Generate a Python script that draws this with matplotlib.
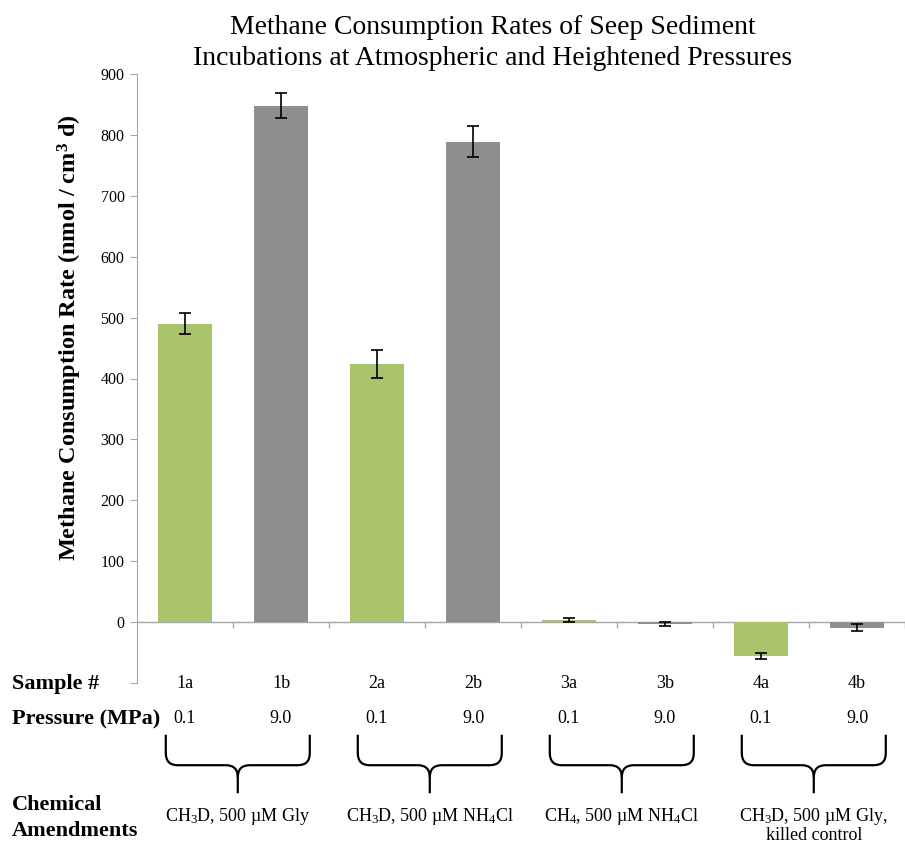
import matplotlib
matplotlib.use("Agg")
import matplotlib.pyplot as plt
from matplotlib.path import Path
from matplotlib.patches import PathPatch

plt.rcParams['font.family'] = ['Liberation Serif', 'DejaVu Serif']
plt.rcParams['mathtext.fontset'] = 'custom'
plt.rcParams['mathtext.rm'] = 'Liberation Serif'
plt.rcParams['mathtext.it'] = 'Liberation Serif:italic'
plt.rcParams['mathtext.bf'] = 'Liberation Serif:bold'

# datos
muestras = ['1a', '1b', '2a', '2b', '3a', '3b', '4a', '4b']
presion = ['0.1', '9.0', '0.1', '9.0', '0.1', '9.0', '0.1', '9.0']
tasas = [490, 848, 424, 789, 3.5, -3.5, -55, -9]
errores = [17, 21, 23, 26, 3, 3.5, 5, 6]
enmiendas = ['CH$_3$D, 500 µM Gly',
             'CH$_3$D, 500 µM NH$_4$Cl',
             'CH$_4$, 500 µM NH$_4$Cl',
             'CH$_3$D, 500 µM Gly,\nkilled control']
y_ticks = [-100, 0, 100, 200, 300, 400, 500, 600, 700, 800, 900]

verde = '#A9C46C'
gris = '#8E8E8E'
gris_eje = '#A6A6A6'
colores = [verde if m.endswith('a') else gris for m in muestras]

fig = plt.figure(figsize=(9.05, 8.44), dpi=100)
ax = fig.add_axes([137/905, 161/844, 768/905, 609/844])

x = list(range(len(muestras)))
ax.bar(x, tasas, width=0.57, color=colores, zorder=2)
ax.errorbar(x, tasas, yerr=errores, fmt='none', ecolor='black',
            elinewidth=1.2, capsize=4, capthick=1.2, zorder=3)

ax.set_xlim(-0.5, 7.5)
ax.set_ylim(-100, 900)
ax.set_yticks(y_ticks)
ax.set_yticklabels(['' if t < 0 else str(t) for t in y_ticks], fontsize=11.5)
ax.tick_params(axis='y', direction='out', length=5, color=gris_eje, pad=4)
ax.set_xticks([])
for lado in ['top', 'right', 'bottom']:
    ax.spines[lado].set_visible(False)
ax.spines['left'].set_color(gris_eje)

# linea del cero y marcas entre categorias
ax.axhline(0, color=gris_eje, lw=1, zorder=1)
ax.vlines([i + 0.5 for i in range(8)], -9, 0, color=gris_eje, lw=1, clip_on=False)

# etiquetas bajo el eje
for i in x:
    ax.text(i, -100, muestras[i], ha='center', va='center', fontsize=13)
    ax.text(i, -158, presion[i], ha='center', va='center', fontsize=13)

fig.text(12/905, 1 - 684/844, 'Sample #', fontsize=16, fontweight='bold', va='center')
fig.text(12/905, 1 - 719/844, 'Pressure (MPa)', fontsize=16, fontweight='bold', va='center')
fig.text(12/905, 1 - 818/844, 'Chemical\nAmendments', fontsize=16, fontweight='bold',
         va='center', linespacing=1.4)

# llaves
rx, ry = 12/96.3, 12/0.609
y_top, y_h, y_tip = -185, -235, -281
for g in range(4):
    x0 = 2*g - 0.2
    x1 = 2*g + 1.3
    xm = (x0 + x1) / 2
    verts = [(x0, y_top), (x0, y_h + ry), (x0, y_h), (x0 + rx, y_h),
             (xm - rx, y_h), (xm, y_h), (xm, y_h - ry), (xm, y_tip),
             (xm, y_h - ry), (xm, y_h), (xm + rx, y_h),
             (x1 - rx, y_h), (x1, y_h), (x1, y_h + ry), (x1, y_top)]
    codes = [Path.MOVETO, Path.LINETO, Path.CURVE3, Path.CURVE3,
             Path.LINETO, Path.CURVE3, Path.CURVE3, Path.LINETO,
             Path.MOVETO, Path.CURVE3, Path.CURVE3,
             Path.LINETO, Path.CURVE3, Path.CURVE3, Path.LINETO]
    ax.add_patch(PathPatch(Path(verts, codes), fill=False, lw=1.6,
                           edgecolor='black', clip_on=False))
    lineas = enmiendas[g].split('\n')
    ax.text(xm, -302, lineas[0], ha='center', va='top', fontsize=13)
    for k, extra in enumerate(lineas[1:]):
        ax.text(xm, -351 - 40*k, extra, ha='center', va='center', fontsize=13)

fig.text(70/905, 1 - 338/844, 'Methane Consumption Rate (nmol / cm$^\\mathbf{3}$ d)',
         rotation=90, fontsize=17.5, fontweight='bold', ha='center', va='center')
fig.text(493/905, 1 - 43/844,
         'Methane Consumption Rates of Seep Sediment\nIncubations at Atmospheric and Heightened Pressures',
         fontsize=20, ha='center', va='center', linespacing=1.3)

fig.savefig('out.png', dpi=100)
